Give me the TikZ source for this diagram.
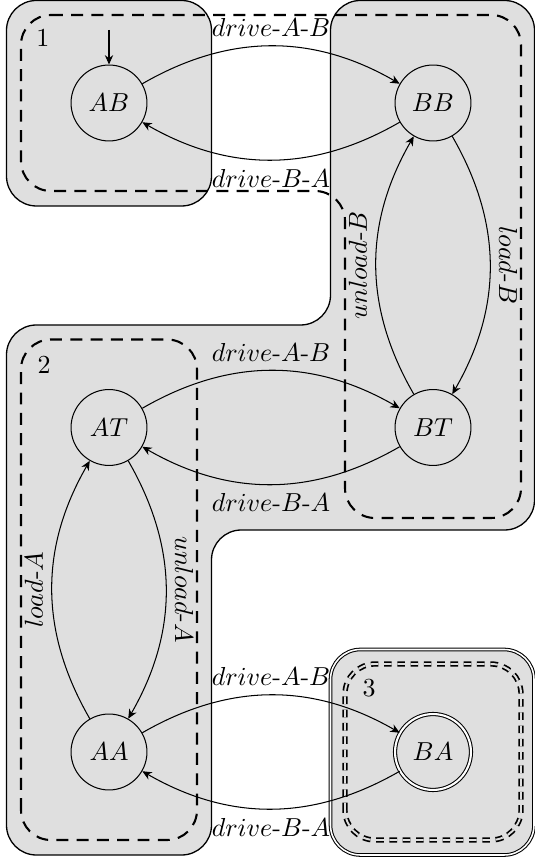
\documentclass[tikz,border=0pt]{standalone}
\usetikzlibrary{arrows.meta}
\begin{document}
\begin{tikzpicture}[x=0.3846pt,y=0.3846pt,
  state/.style={circle,draw,minimum size=29.2pt,inner sep=0pt,line width=0.4pt},
  acc/.style={state,double,double distance=0.8pt},
  region/.style={draw,line width=0.5pt,fill=gray!25,rounded corners=11.5pt},
  dashbox/.style={draw,thick,dash pattern=on 4.6pt off 3.2pt,rounded corners=11.5pt},
  ddashbox/.style={draw,line width=0.65pt,double=gray!25,double distance=0.75pt,dash pattern=on 2.9pt off 2.2pt,rounded corners=11.5pt},
  >={Stealth[length=3.6pt,width=3.2pt]}
]
\useasboundingbox (0,0) rectangle (535,861);
% shaded regions
\path[region] (6.5,655) rectangle (211.5,860.5);
\path[region] (330.5,860.5) -- (534.5,860.5) -- (534.5,331) -- (211.5,331) -- (211.5,6) -- (6.5,6) -- (6.5,536) -- (330.5,536) -- cycle;
\path[region,double=white,double distance=0.6pt,line width=0.4pt] (330.5,6) rectangle (534,211.5);
% dashed groups
\path[dashbox] (21,846) -- (521,846) -- (521,343) -- (345,343) -- (345,670) -- (21,670) -- cycle;
\path[dashbox] (21,21) rectangle (197,521.5);
\path[ddashbox] (345,21) rectangle (521,197);
\node (g1) at (43,823) {1};
\node (g2) at (44,496) {2};
\node (g3) at (369,173) {3};
% states
\node[state] (AB) at (109,758) {$AB$};
\node[state] (BB) at (433,758) {$BB$};
\node[state] (AT) at (109,433.5) {$AT$};
\node[state] (BT) at (433,433.5) {$BT$};
\node[state] (AA) at (109,109) {$AA$};
\node[acc] (BA) at (433,109) {$BA$};
\coordinate (init) at (109,831);
\draw[->] (init) -- (AB);
% transitions
\path[->]
  (AB) edge[bend left] node[above] {$drive$-$A$-$B$} (BB)
  (BB) edge[bend left] node[below] {$drive$-$B$-$A$} (AB)
  (BB) edge[bend left] node[anchor=south,rotate=-90] {$load$-$B$} (BT)
  (BT) edge[bend left] node[anchor=south,rotate=90] {$unload$-$B$} (BB)
  (AT) edge[bend left] node[above] {$drive$-$A$-$B$} (BT)
  (BT) edge[bend left] node[below] {$drive$-$B$-$A$} (AT)
  (AT) edge[bend left] node[anchor=south,rotate=-90] {$unload$-$A$} (AA)
  (AA) edge[bend left] node[anchor=south,rotate=90] {$load$-$A$} (AT)
  (AA) edge[bend left] node[above] {$drive$-$A$-$B$} (BA)
  (BA) edge[bend left] node[below] {$drive$-$B$-$A$} (AA);
\end{tikzpicture}
\end{document}
